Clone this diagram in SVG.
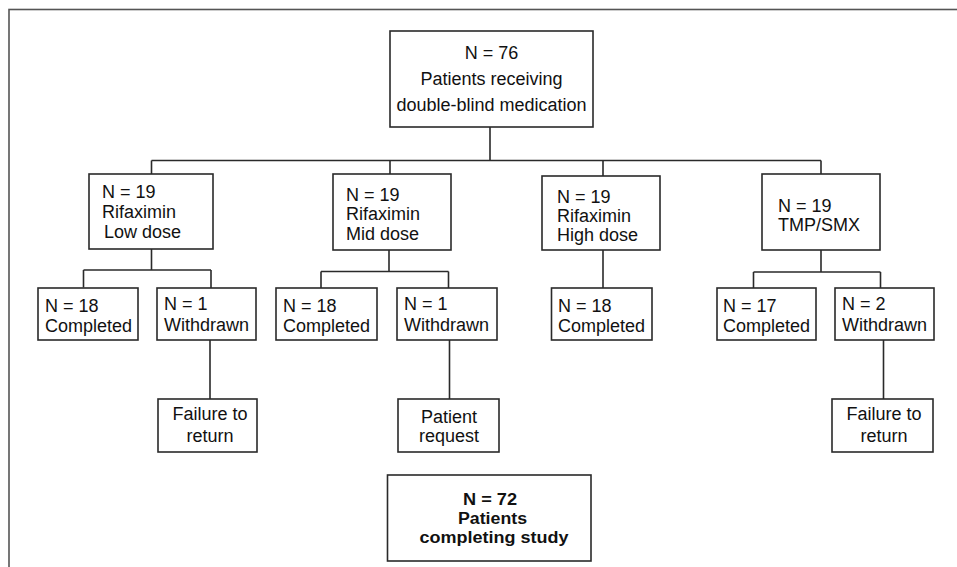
<svg xmlns="http://www.w3.org/2000/svg" width="957" height="567" viewBox="0 0 957 567">
<style>
.b{fill:#fff;stroke:#2a2a2a;stroke-width:1.6}
.t{font-family:"Liberation Sans",Arial,sans-serif;font-size:18px;fill:#111}
.c{text-anchor:middle}
.bold{font-weight:bold;font-size:16px}
.ln{stroke:#2a2a2a;stroke-width:1.6;fill:none}
</style>
<rect x="0" y="0" width="957" height="567" fill="#fff"/>
<rect x="9" y="9.5" width="1000" height="600" fill="none" stroke="#555" stroke-width="1.6"/>
<g id="connectors">
<path class="ln" d="M490,127V160.5M151.5,160.5H821M151.5,160.5V174M390,160.5V174M603,160.5V176M821,160.5V174"/>
<path class="ln" d="M151.5,249V270M83.5,270H211M83.5,270V287.5M211,270V288M210,340V399"/>
<path class="ln" d="M389,250V271.5M321,271.5H448.5M321,271.5V288M448.5,271.5V288M449.5,340V399"/>
<path class="ln" d="M603,250V288"/>
<path class="ln" d="M821,250V272M753.5,272H880.5M753.5,272V288M880.5,272V288M883.5,340V399"/>
</g>
<g id="top"><rect class="b" x="390" y="31" width="203" height="96"/>
<text class="t c" x="491.5" y="59">N = 76</text><text class="t c" x="491.5" y="85">Patients receiving</text><text class="t c" x="491.5" y="111">double-blind medication</text></g>
<g id="low"><rect class="b" x="89" y="174" width="124" height="75"/>
<text class="t" x="102" y="198">N = 19</text><text class="t" x="102" y="218">Rifaximin</text><text class="t" x="104" y="238">Low dose</text></g>
<g id="mid"><rect class="b" x="333" y="174" width="118" height="76"/>
<text class="t" x="346" y="200.5">N = 19</text><text class="t" x="346" y="220">Rifaximin</text><text class="t" x="346" y="240">Mid dose</text></g>
<g id="high"><rect class="b" x="542" y="176" width="118" height="74"/>
<text class="t" x="557" y="203">N = 19</text><text class="t" x="557" y="221.5">Rifaximin</text><text class="t" x="557" y="241">High dose</text></g>
<g id="tmp"><rect class="b" x="762" y="174" width="118" height="76"/>
<text class="t" x="778" y="211.5">N = 19</text><text class="t" x="778" y="231">TMP/SMX</text></g>
<g id="low-completed"><rect class="b" x="38" y="288" width="100" height="52"/>
<text class="t" x="45" y="311.5">N = 18</text><text class="t" x="45" y="331.5">Completed</text></g>
<g id="low-withdrawn"><rect class="b" x="157" y="288" width="99" height="52"/>
<text class="t" x="164" y="310">N = 1</text><text class="t" x="164" y="330.5">Withdrawn</text></g>
<g id="low-reason"><rect class="b" x="158" y="399" width="99" height="53"/>
<text class="t c" x="210" y="420">Failure to</text><text class="t c" x="210" y="441.5">return</text></g>
<g id="mid-completed"><rect class="b" x="276" y="288" width="101" height="52"/>
<text class="t" x="283" y="311.5">N = 18</text><text class="t" x="283" y="331.5">Completed</text></g>
<g id="mid-withdrawn"><rect class="b" x="397" y="288" width="100" height="52"/>
<text class="t" x="404" y="310">N = 1</text><text class="t" x="404" y="330.5">Withdrawn</text></g>
<g id="mid-reason"><rect class="b" x="398" y="399" width="101" height="53"/>
<text class="t c" x="449" y="423">Patient</text><text class="t c" x="449" y="442">request</text></g>
<g id="high-completed"><rect class="b" x="551.5" y="288" width="100.5" height="52"/>
<text class="t" x="558" y="311.5">N = 18</text><text class="t" x="558" y="331.5">Completed</text></g>
<g id="tmp-completed"><rect class="b" x="717" y="288" width="99" height="52"/>
<text class="t" x="723" y="311.5">N = 17</text><text class="t" x="723" y="331.5">Completed</text></g>
<g id="tmp-withdrawn"><rect class="b" x="835" y="288" width="99" height="52"/>
<text class="t" x="842" y="310">N = 2</text><text class="t" x="842" y="330.5">Withdrawn</text></g>
<g id="tmp-reason"><rect class="b" x="832" y="399" width="101" height="53"/>
<text class="t c" x="884" y="420">Failure to</text><text class="t c" x="884" y="441.5">return</text></g>
<g id="total"><rect class="b" x="387.5" y="475" width="203.5" height="86"/>
<text class="t c bold" x="490" y="505" textLength="54" lengthAdjust="spacingAndGlyphs">N = 72</text><text class="t c bold" x="492.5" y="524" textLength="69" lengthAdjust="spacingAndGlyphs">Patients</text><text class="t c bold" x="494" y="543" textLength="149" lengthAdjust="spacingAndGlyphs">completing study</text></g>
</svg>
